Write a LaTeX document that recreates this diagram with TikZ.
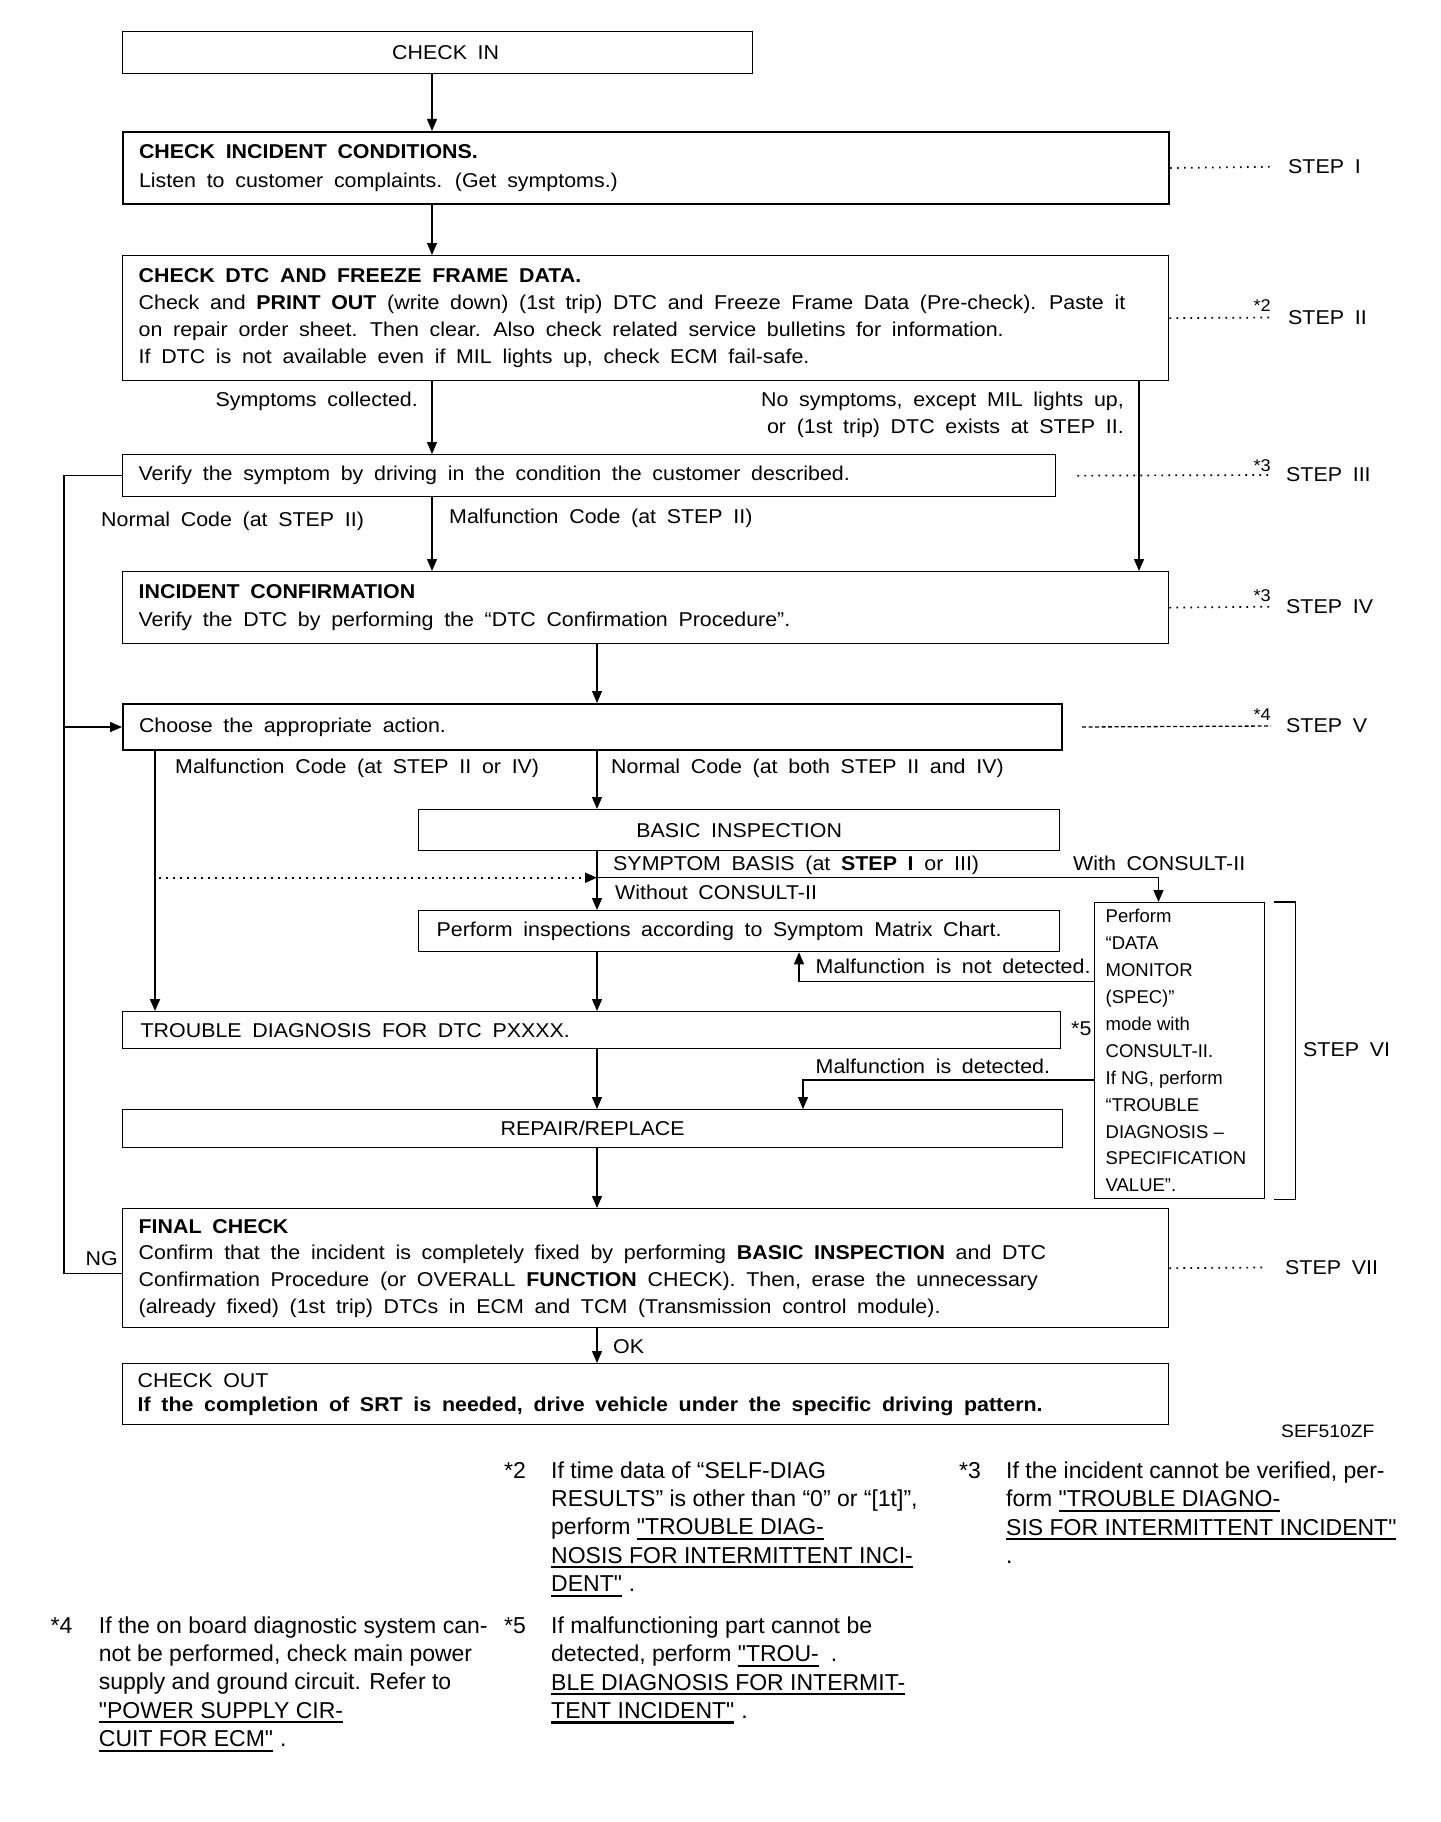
\documentclass[tikz,border=0pt]{standalone}
\usepackage{fontspec}
\setmainfont{Liberation Sans}[FakeStretch=1.07,WordSpace=1.8]
\newfontfamily\notefont{Liberation Sans}
\usetikzlibrary{arrows.meta}
\newcommand{\ulink}[1]{\setbox0\hbox{#1}\rlap{\rule[-5pt]{\wd0}{2.2pt}}\box0}

\begin{document}
\begin{tikzpicture}[
		x=1pt, y=-1pt,
		every node/.style={
			inner sep=0pt,
			font=\fontsize{20}{27}\selectfont,
		},
		chartbox/.style={
			draw, line width=1.3pt, anchor=north west,
			inner xsep=16pt, align=flush left,
		},
		flow/.style={
			line width=1.3pt,
			-{Triangle[width=10pt,length=12pt]},
		},
		leader/.style={
			line width=1.7pt, dash pattern=on 1.7pt off 5.3pt,
		},
		steplabel/.style={
			anchor=west, inner xsep=15pt,
		},
		starmark/.style={
			anchor=base east, font=\fontsize{17}{17}\selectfont,
		},
		notetext/.style={
			anchor=base west, align=left,
			font=\notefont\fontsize{23}{28.4}\selectfont,
		},
	]
	\useasboundingbox (0,0) rectangle (1440,1822);

	\coordinate (xA) at (432,0);
	\coordinate (xB) at (597,0);
	\coordinate (xL) at (64,0);
	\coordinate (xM) at (155,0);
	\coordinate (xM2) at (159,0);
	\coordinate (xR) at (1139,0);
	\coordinate (xC) at (1158.5,0);
	\coordinate (xU) at (799,0);
	\coordinate (xD) at (803,0);
	\coordinate (ySym) at (0,877.7);
	\coordinate (yNG) at (0,1273.3);
	\coordinate (yND) at (0,981.7);
	\coordinate (yMD) at (0,1080);

	\node[chartbox, align=center, minimum width=630pt, minimum height=42pt] (checkin) at (122,31) {\hspace*{16pt}CHECK IN};
	\node[chartbox, line width=2pt, text width=1014pt, minimum height=72pt, font=\fontsize{20}{29}\selectfont] (step1) at (122,131)
		{\textbf{CHECK INCIDENT CONDITIONS.}\\Listen to customer complaints. (Get symptoms.)};
	\node[chartbox, text width=1014pt, minimum height=125pt] (step2) at (122,255)
		{\textbf{CHECK DTC AND FREEZE FRAME DATA.}\\
		Check and \textbf{PRINT OUT} (write down) (1st trip) DTC and Freeze Frame Data (Pre-check). Paste it\\
		on repair order sheet. Then clear. Also check related service bulletins for information.\\
		If DTC is not available even if MIL lights up, check ECM fail-safe.};
	\node[chartbox, text width=901pt, minimum height=42pt] (verify) at (122,454)
		{Verify the symptom by driving in the condition the customer described.};
	\node[chartbox, text width=1014pt, minimum height=72pt, font=\fontsize{20}{28.4}\selectfont] (incident) at (122,571)
		{\textbf{INCIDENT CONFIRMATION}\\Verify the DTC by performing the “DTC Confirmation Procedure”.};
	\node[chartbox, line width=2pt, text width=907pt, minimum height=46pt] (choose) at (122,703)
		{Choose the appropriate action.};
	\node[chartbox, align=center, minimum width=641pt, minimum height=41pt] (basic) at (418,809) {BASIC INSPECTION};
	\node[chartbox, inner xsep=18pt, text width=605pt, minimum height=41pt] (perform) at (418,910)
		{Perform inspections according to Symptom Matrix Chart.};
	\node[chartbox, inner xsep=18pt, text width=902pt, minimum height=37pt] (trouble) at (122,1011)
		{TROUBLE DIAGNOSIS FOR DTC PXXXX.};
	\node[chartbox, align=center, minimum width=940pt, minimum height=38pt] (repair) at (122,1109) {REPAIR/REPLACE};
	\node[chartbox, text width=1014pt, minimum height=119pt, font=\fontsize{20}{26.7}\selectfont] (final) at (122,1208)
		{\textbf{FINAL CHECK}\\
		Confirm that the incident is completely fixed by performing \textbf{BASIC INSPECTION} and DTC\\
		Confirmation Procedure (or OVERALL \textbf{FUNCTION} CHECK). Then, erase the unnecessary\\
		(already fixed) (1st trip) DTCs in ECM and TCM (Transmission control module).};
	\node[chartbox, inner xsep=15pt, text width=1016pt, minimum height=61pt, font=\fontsize{20}{24}\selectfont] (checkout) at (122,1363)
		{CHECK OUT\\\textbf{If the completion of SRT is needed, drive vehicle under the specific driving pattern.}};
	\node[chartbox, inner xsep=11pt, text width=148pt, minimum height=296pt, font=\notefont\fontsize{18.5}{26.93}\selectfont] (consult) at (1094,902)
		{Perform\\“DATA\\MONITOR\\(SPEC)”\\mode with\\CONSULT-II.\\If NG, perform\\“TROUBLE\\DIAGNOSIS –\\SPECIFICATION\\VALUE”.};

	\node[anchor=base east] (lsym) at (418,406.7) {Symptoms collected.};
	\node[anchor=base east, align=right] (lnosym) at (1124,433.3) {No symptoms, except MIL lights up,\\or (1st trip) DTC exists at STEP II.};
	\node[anchor=base west] (lnormal) at (101,526.7) {Normal Code (at STEP II)};
	\node[anchor=base west] (lmal) at (449,523.3) {Malfunction Code (at STEP II)};
	\node[anchor=base west] (lmal2) at (175,773.3) {Malfunction Code (at STEP II or IV)};
	\node[anchor=base west] (lnormal2) at (611,773.3) {Normal Code (at both STEP II and IV)};
	\node[anchor=base west] (lbasis) at (613,870) {SYMPTOM BASIS (at \textbf{STEP I} or III)};
	\node[anchor=base west] (lwith) at (1073,870) {With CONSULT-II};
	\node[anchor=base west] (lwithout) at (615,899) {Without CONSULT-II};
	\node[anchor=base west] (lnotdet) at (815.5,973.3) {Malfunction is not detected.};
	\node[anchor=base west] (l5) at (1071,1035) {*5};
	\node[anchor=base west] (ldet) at (815.5,1073.3) {Malfunction is detected.};
	\node[anchor=base east] (lng) at (118,1265) {NG};
	\node[anchor=base west] (lok) at (613,1353.3) {OK};
	\node[anchor=base west, font=\fontsize{18}{18}\selectfont] (lcode) at (1281,1437.7) {SEF510ZF};

	\node[steplabel] (st1) at (1273,166.8) {STEP I};
	\node[steplabel] (st2) at (1273,317.5) {STEP II};
	\node[steplabel] (st3) at (1271,475) {STEP III};
	\node[steplabel] (st4) at (1271,606.7) {STEP IV};
	\node[steplabel] (st5) at (1271,726) {STEP V};
	\node[anchor=base west] (st6) at (1303,1056.7) {STEP VI};
	\node[steplabel, inner xsep=19pt] (st7) at (1266,1267.5) {STEP VII};
	\node[starmark] (n2) at (1271,311.7) {*2};
	\node[starmark] (n3a) at (1271,471) {*3};
	\node[starmark] (n3b) at (1271,601.7) {*3};
	\node[starmark] (n4) at (1271,720) {*4};

	\draw[flow] (checkin.south -| xA) -- (step1.north -| xA);
	\draw[flow] (step1.south -| xA) -- (step2.north -| xA);
	\draw[flow] (step2.south -| xA) -- (verify.north -| xA);
	\draw[flow] (step2.south -| xR) -- (incident.north -| xR);
	\draw[flow] (verify.south -| xA) -- (incident.north -| xA);
	\draw[flow] (incident.south -| xB) -- (choose.north -| xB);
	\draw[line width=1.3pt] (final.west |- yNG) -| (xL |- verify.west) -- (verify.west);
	\draw[flow] (xL |- choose.west) -- (choose.west);
	\draw[flow, line width=2pt] (choose.south -| xM) -- (trouble.north -| xM);
	\draw[flow] (choose.south -| xB) -- (basic.north -| xB);
	\draw[line width=1.3pt] (basic.south -| xB) -- (xB |- ySym);
	\draw[flow] (xB |- ySym) -| (consult.north -| xC);
	\draw[flow] (xB |- ySym) -- (perform.north -| xB);
	\draw[leader, -{Triangle[width=10pt,length=12pt]}] (xM2 |- ySym) -- (xB |- ySym);
	\draw[flow] (perform.south -| xB) -- (trouble.north -| xB);
	\draw[flow] (trouble.south -| xB) -- (repair.north -| xB);
	\draw[flow] (repair.south -| xB) -- (final.north -| xB);
	\draw[flow] (final.south -| xB) -- (checkout.north -| xB);
	\draw[flow] (consult.west |- yND) -| (perform.south -| xU);
	\draw[flow] (consult.west |- yMD) -| (repair.north -| xD);
	\draw[line width=1.3pt] ([xshift=9pt]consult.north east) -- ([xshift=30pt]consult.north east)
		-- ([xshift=30pt]consult.south east) -- ([xshift=9pt]consult.south east);

	\draw[leader] (step1.east) -- (st1.west);
	\draw[leader] (step2.east) -- (st2.west);
	\draw[leader] ([xshift=21pt]verify.east) -- (st3.west);
	\draw[leader] (incident.east) -- (st4.west);
	\draw[line width=1.3pt, dash pattern=on 4pt off 2.5pt] ([xshift=19pt]choose.east) -- (st5.west);
	\draw[leader] (final.east) -- (st7.west);

	\node[notetext] (k2) at (504,1478.3) {*2};
	\node[notetext] (fn2) at (551,1591.7) {If time data of “SELF-DIAG\\RESULTS” is other than “0” or “[1t]”,\\perform \ulink{"TROUBLE DIAG-}\\\ulink{NOSIS FOR INTERMITTENT INCI-}\\\ulink{DENT"}\hspace{7pt}.};
	\node[notetext] (k3) at (959,1478.3) {*3};
	\node[notetext] (fn3) at (1006,1563.5) {If the incident cannot be verified, per-\\form \ulink{"TROUBLE DIAGNO-}\\\ulink{SIS FOR INTERMITTENT INCIDENT"}\\.};
	\node[notetext] (k4) at (50.5,1633.3) {*4};
	\node[notetext] (fn4) at (98.7,1746.7) {If the on board diagnostic system can-\\not be performed, check main power\\supply and ground circuit. Refer to\\\ulink{"POWER SUPPLY CIR-}\\\ulink{CUIT FOR ECM"}\hspace{7pt}.};
	\node[notetext] (k5) at (504,1633.3) {*5};
	\node[notetext] (fn5) at (551,1718.5) {If malfunctioning part cannot be\\detected, perform \ulink{"TROU-}\hspace{12pt}.\\\ulink{BLE DIAGNOSIS FOR INTERMIT-}\\\ulink{TENT INCIDENT"}\hspace{7pt}.};
\end{tikzpicture}
\end{document}
